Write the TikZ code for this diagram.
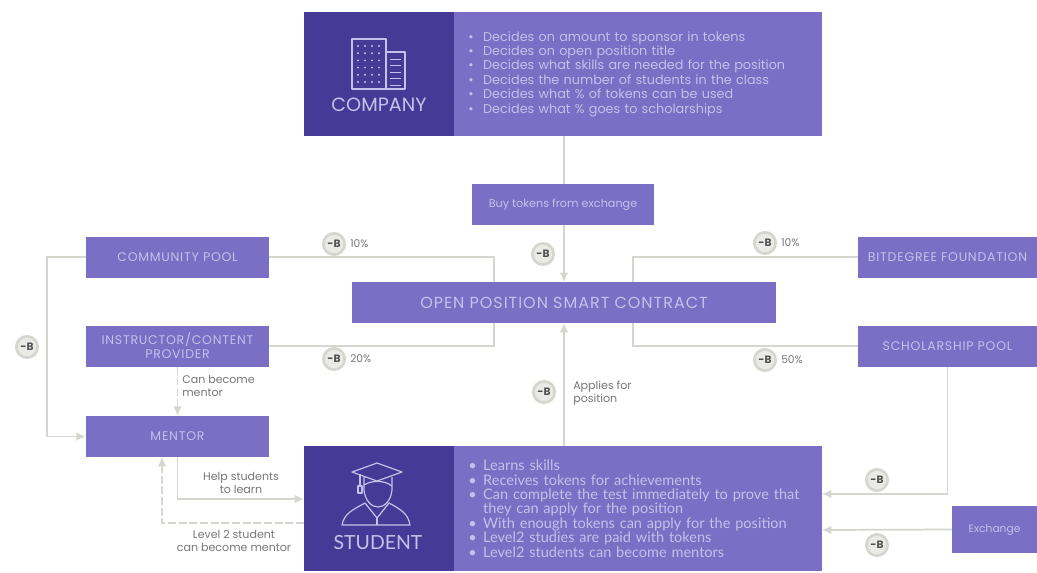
\documentclass[tikz,border=0pt]{standalone}
\usepackage{fontspec}
\usetikzlibrary{arrows.meta}
\setmainfont{Poppins}
\newfontfamily\studentfont{Lato}
\definecolor{deep}{HTML}{463A96}
\definecolor{violet}{HTML}{7A6EC5}
\definecolor{lilac}{HTML}{C6C0EA}
\definecolor{wire}{HTML}{D6D6D0}
\definecolor{note}{HTML}{77777A}
\newcommand{\widecaps}[1]{\fontsize{#1}{10.5}\selectfont\addfontfeature{LetterSpace=6}}
\tikzstyle{pool} = [fill=violet, text=lilac, minimum width=137.25pt, minimum height=30.75pt, inner sep=0pt, align=center, font=\widecaps{9.4}]
\tikzstyle{panel} = [fill=deep, minimum width=112.5pt, minimum height=93.5pt]
\tikzstyle{duty} = [fill=violet, text=lilac, minimum height=93.5pt, text width=255pt, inner xsep=10.5pt, inner ysep=0pt, align=left, font=\fontsize{9.6}{10.8}\selectfont]
\tikzstyle{title} = [text=lilac, inner sep=0pt, font=\fontsize{14.4}{16}\selectfont]
\tikzstyle{link} = [draw=wire, line width=1.3pt, >={Latex[length=7pt,width=6.5pt]}]
\tikzstyle{broken} = [dash pattern=on 6pt off 2pt]
\tikzstyle{token} = [circle, draw=wire, line width=2pt, fill=wire!50, minimum size=16pt, inner sep=0pt, text=note!70!black, font=\fontsize{8}{8}\selectfont\bfseries]
\tikzstyle{share} = [text=note, inner sep=0pt, font=\fontsize{8}{8}\selectfont]
\tikzstyle{remark} = [text=note, inner sep=0pt, align=center, font=\fontsize{8.3}{10}\selectfont]
\tikzstyle{icon} = [draw=lilac, line width=.9pt, line join=round]
\newcommand{\bu}{\makebox[11.2pt][l]{\textbullet}}
\begin{document}
\begin{tikzpicture}[x=.75pt, y=-.75pt]%
	\useasboundingbox[fill=white] (0,0) rectangle (1037,572);%
	% boxes
	\node [panel] (company) at (379,74) {};%
	\node [duty, anchor=west] (companylist) at (454,74) {\bu Decides on amount to sponsor in tokens\\%
		\bu Decides on open position title\\%
		\bu Decides what skills are needed for the position\\%
		\bu Decides the number of students in the class\\%
		\bu Decides what \% of tokens can be used\\%
		\bu Decides what \% goes to scholarships};%
	\node [pool, minimum width=136.5pt, font=\fontsize{8.4}{10}\selectfont] (exchangebuy) at (563,204.5) {Buy tokens from exchange};%
	\node [pool, minimum width=318pt, font=\widecaps{12}] (contract) at (564,302.5) {OPEN POSITION SMART CONTRACT};%
	\node [pool] (community) at (177.5,257) {COMMUNITY POOL};%
	\node [pool] (instructor) at (177.5,346) {INSTRUCTOR/CONTENT\\PROVIDER};%
	\node [pool] (mentor) at (177.5,436.5) {MENTOR};%
	\node [pool, minimum width=134.25pt] (foundation) at (947.5,257) {BITDEGREE FOUNDATION};%
	\node [pool, minimum width=134.25pt] (scholarship) at (947.5,346) {SCHOLARSHIP POOL};%
	\node [pool, minimum width=63.75pt, minimum height=35.25pt, font=\fontsize{8}{8}\selectfont] (exchange) at (994.5,529.5) {Exchange};%
	\node [panel] (student) at (379,508.5) {};%
	\node [duty, anchor=west, font=\studentfont\fontsize{10.9}{10.8}\selectfont] (studentlist) at (454,508.5) {\bu Learns skills\\%
		\bu Receives tokens for achievements\\%
		\bu Can complete the test immediately to prove that\\%
		\hspace*{11.2pt}they can apply for the position\\%
		\bu With enough tokens can apply for the position\\%
		\bu Level2 studies are paid with tokens\\%
		\bu Level2 students can become mentors};%
	\node [title] (companytitle) at (379,105) {COMPANY};%
	\node [title, font=\studentfont\fontsize{14.6}{16}\selectfont] (studenttitle) at (378,543) {STUDENT};%
	% free ends
	\coordinate (leftbend) at (47,347);%
	\coordinate (intl) at (494,282);%
	\coordinate (inbl) at (494,323);%
	\coordinate (intr) at (633,282);%
	\coordinate (inbr) at (633,323);%
	\coordinate (buyout) at (564,225);%
	\coordinate (buyin) at (564,184);%
	\coordinate (contractin) at (564,282);%
	\coordinate (contractout) at (564,323);%
	\coordinate (studentout) at (564,446);%
	\coordinate (companyout) at (564,136);%
	\coordinate (helpin) at (304,499);%
	\coordinate (levelout) at (304,523);%
	\coordinate (levelin) at (162,457);%
	\coordinate (schoolin) at (822,494);%
	\coordinate (exchangein) at (822,530);%
	% connectors
	\draw [link] (companyout) -- (buyin);%
	\draw [link, ->] (buyout) -- (contractin);%
	\draw [link] (community.east) -| (intl);%
	\draw [link] (instructor.east) -| (inbl);%
	\draw [link] (foundation.west) -| (intr);%
	\draw [link] (scholarship.west) -| (inbr);%
	\draw [link, ->] (community.west) -| (leftbend) |- (mentor.west);%
	\draw [link, ->, broken] (instructor.south) -- (mentor.north);%
	\draw [link, ->] (mentor.south) |- (helpin);%
	\draw [link, ->, broken] (levelout) -| (levelin);%
	\draw [link, ->] (studentout) -- (contractout);%
	\draw [link, ->] (scholarship.south) |- (schoolin);%
	\draw [link, ->] (exchange.west) -- (exchangein);%
	% tokens
	\node [token] (t1) at (27,347) {-B};%
	\node [token] (t2) at (334,244) {-B};%
	\node [token] (t3) at (334,359) {-B};%
	\node [token] (t4) at (543,254) {-B};%
	\node [token] (t5) at (544,392) {-B};%
	\node [token] (t6) at (765,243) {-B};%
	\node [token] (t7) at (765,360) {-B};%
	\node [token] (t8) at (877,480) {-B};%
	\node [token] (t9) at (877,545) {-B};%
	\node [share, anchor=west, xshift=3pt] (s2) at (t2.east) {10\%};%
	\node [share, anchor=west, xshift=3pt] (s3) at (t3.east) {20\%};%
	\node [share, anchor=west, xshift=3pt] (s6) at (t6.east) {10\%};%
	\node [share, anchor=west, xshift=3pt] (s7) at (t7.east) {50\%};%
	% remarks
	\node [remark, align=left, anchor=west] (r1) at (182,386) {Can become\\mentor};%
	\node [remark] (r2) at (241,483) {Help students\\to learn};%
	\node [remark] (r3) at (234,541) {Level 2 student\\can become mentor};%
	\node [remark, align=left, anchor=west] (r4) at (573,393.5) {Applies for\\position};%
	% building
	\draw [icon] (352,39) rectangle (386,89);%
	\draw [icon] (386,52) rectangle (405,89);%
	\foreach \i in {0,...,3}%
		\foreach \j in {0,...,5}%
			\fill [lilac] (358+\i*7,46+\j*7.2) circle (.8pt);%
	\foreach \j in {0,...,4}%
		\draw [icon, line width=.7pt] (390,59+\j*6.5) -- (401,59+\j*6.5);%
	% graduate
	\draw [icon] (352,472) -- (377,463) -- (402,472) -- (377,481) -- cycle;%
	\draw [icon] (364,477) -- (364,490) .. controls (365,500) and (371,507) .. (378,507) .. controls (385,507) and (391,500) .. (392,490) -- (392,477);%
	\draw [icon] (360,474) -- (360,486) (358,486) rectangle (362,493);%
	\draw [icon] (364,485) .. controls (372,480) and (384,480) .. (392,486);%
	\draw [icon] (342,525) .. controls (344,514) and (352,510) .. (365,503) -- (377,518) -- (389,503) .. controls (402,510) and (408,514) .. (410,525) -- cycle;%
	\draw [icon] (377,518) -- (377,525);%
\end{tikzpicture}
\end{document}
